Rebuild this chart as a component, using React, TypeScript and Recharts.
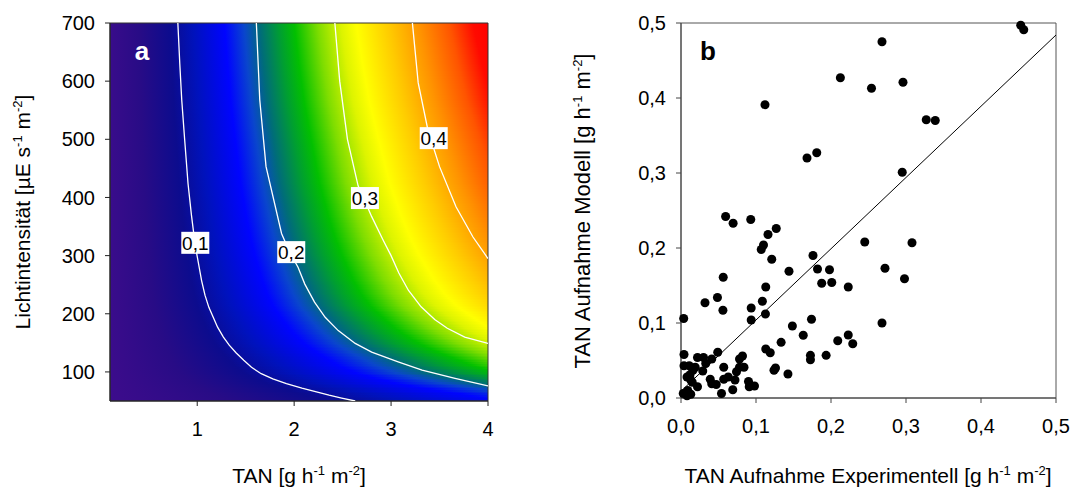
import React from "react";
import { ScatterChart, Scatter, XAxis, YAxis, ZAxis, ReferenceArea } from "recharts";

const FONT = "'Liberation Sans', Arial, Helvetica, sans-serif";

// ---------- panel a: modelled TAN uptake over TAN and light ----------
const tanTicks = [1, 2, 3, 4];
const lightTicks = [100, 200, 300, 400, 500, 600, 700];

// contour lines (TAN at a given light level)
const contour01 = [
  { light: 700, tan: 0.8 }, { light: 630, tan: 0.82 }, { light: 568, tan: 0.84 },
  { light: 500, tan: 0.87 }, { light: 424, tan: 0.905 }, { light: 370, tan: 0.94 },
  { light: 330, tan: 0.97 }, { light: 303, tan: 0.995 }, { light: 280, tan: 1.02 },
  { light: 257, tan: 1.045 }, { light: 232, tan: 1.08 }, { light: 211, tan: 1.12 },
  { light: 194, tan: 1.165 }, { light: 177, tan: 1.21 }, { light: 160, tan: 1.27 },
  { light: 146, tan: 1.33 }, { light: 133, tan: 1.4 }, { light: 120, tan: 1.48 },
  { light: 108, tan: 1.56 }, { light: 97, tan: 1.66 }, { light: 88, tan: 1.78 },
  { light: 80, tan: 1.92 }, { light: 72, tan: 2.08 }, { light: 66, tan: 2.22 },
  { light: 60, tan: 2.36 }, { light: 55, tan: 2.49 }, { light: 50, tan: 2.63 },
];
const contour02 = [
  { light: 700, tan: 1.61 }, { light: 568, tan: 1.645 }, { light: 453, tan: 1.71 },
  { light: 338, tan: 1.87 }, { light: 307, tan: 1.95 }, { light: 280, tan: 2.04 },
  { light: 251, tan: 2.11 }, { light: 220, tan: 2.21 }, { light: 194, tan: 2.32 },
  { light: 171, tan: 2.455 }, { light: 149, tan: 2.63 }, { light: 134, tan: 2.8 },
  { light: 117, tan: 3.08 }, { light: 103, tan: 3.32 }, { light: 89, tan: 3.66 },
  { light: 76, tan: 4.0 },
];
const contour03 = [
  { light: 700, tan: 2.42 }, { light: 600, tan: 2.47 }, { light: 500, tan: 2.55 },
  { light: 420, tan: 2.66 }, { light: 398, tan: 2.72 }, { light: 367, tan: 2.8 },
  { light: 326, tan: 2.92 }, { light: 300, tan: 3.0 }, { light: 270, tan: 3.08 },
  { light: 240, tan: 3.18 }, { light: 212, tan: 3.31 }, { light: 190, tan: 3.45 },
  { light: 175, tan: 3.58 }, { light: 160, tan: 3.76 }, { light: 149, tan: 4.0 },
];
const contour04 = [
  { light: 700, tan: 3.22 }, { light: 597, tan: 3.28 }, { light: 516, tan: 3.38 },
  { light: 453, tan: 3.5 }, { light: 384, tan: 3.67 }, { light: 332, tan: 3.845 },
  { light: 295, tan: 4.0 },
];
const contourLabels = [
  { tan: 0.98, light: 322, text: "0,1" },
  { tan: 1.97, light: 306, text: "0,2" },
  { tan: 2.73, light: 399, text: "0,3" },
  { tan: 3.44, light: 502, text: "0,4" },
];

// colour scale of the map (uptake -> colour)
const colorScale = [
  { z: 0.0, color: "#3e0c8c" }, { z: 0.05, color: "#280c86" },
  { z: 0.09, color: "#0c0c8e" }, { z: 0.12, color: "#0012bc" },
  { z: 0.16, color: "#0004ff" }, { z: 0.185, color: "#0a46cc" },
  { z: 0.205, color: "#006c7a" }, { z: 0.23, color: "#009e32" },
  { z: 0.25, color: "#02c000" }, { z: 0.28, color: "#7edd00" },
  { z: 0.31, color: "#ddf400" }, { z: 0.33, color: "#ffff00" },
  { z: 0.37, color: "#ffcc00" }, { z: 0.41, color: "#ff9400" },
  { z: 0.45, color: "#ff5400" }, { z: 0.48, color: "#ff0a00" },
  { z: 0.5, color: "#ff0000" },
];

// ---------- panel b: model vs. experiment ----------
const axisTicksB = [0, 0.1, 0.2, 0.3, 0.4, 0.5];
const uptake = [
  { exp: 0.453, model: 0.497 }, { exp: 0.457, model: 0.491 }, { exp: 0.268, model: 0.475 },
  { exp: 0.2125, model: 0.427 }, { exp: 0.254, model: 0.413 }, { exp: 0.296, model: 0.421 },
  { exp: 0.112, model: 0.391 }, { exp: 0.327, model: 0.371 }, { exp: 0.339, model: 0.37 },
  { exp: 0.168, model: 0.32 }, { exp: 0.181, model: 0.327 }, { exp: 0.295, model: 0.301 },
  { exp: 0.0595, model: 0.242 }, { exp: 0.0695, model: 0.233 }, { exp: 0.093, model: 0.238 },
  { exp: 0.127, model: 0.226 }, { exp: 0.116, model: 0.218 }, { exp: 0.11, model: 0.204 },
  { exp: 0.107, model: 0.198 }, { exp: 0.121, model: 0.185 }, { exp: 0.245, model: 0.208 },
  { exp: 0.308, model: 0.207 }, { exp: 0.176, model: 0.19 }, { exp: 0.144, model: 0.169 },
  { exp: 0.182, model: 0.172 }, { exp: 0.198, model: 0.171 }, { exp: 0.272, model: 0.173 },
  { exp: 0.0563, model: 0.161 }, { exp: 0.1876, model: 0.153 }, { exp: 0.201, model: 0.154 },
  { exp: 0.223, model: 0.148 }, { exp: 0.298, model: 0.159 }, { exp: 0.113, model: 0.148 },
  { exp: 0.0486, model: 0.134 }, { exp: 0.032, model: 0.127 }, { exp: 0.1085, model: 0.129 },
  { exp: 0.0559, model: 0.117 }, { exp: 0.0936, model: 0.12 }, { exp: 0.1126, model: 0.112 },
  { exp: 0.0036, model: 0.106 }, { exp: 0.0936, model: 0.104 }, { exp: 0.174, model: 0.105 },
  { exp: 0.268, model: 0.1 }, { exp: 0.1485, model: 0.096 }, { exp: 0.163, model: 0.0836 },
  { exp: 0.223, model: 0.084 }, { exp: 0.209, model: 0.0764 }, { exp: 0.229, model: 0.0724 },
  { exp: 0.1335, model: 0.0742 }, { exp: 0.113, model: 0.0653 }, { exp: 0.119, model: 0.0604 },
  { exp: 0.1726, model: 0.0569 }, { exp: 0.1726, model: 0.051 }, { exp: 0.1935, model: 0.0569 },
  { exp: 0.126, model: 0.04 }, { exp: 0.124, model: 0.037 }, { exp: 0.1426, model: 0.032 },
  // dense cluster near the origin
  { exp: 0.004, model: 0.058 }, { exp: 0.004, model: 0.043 }, { exp: 0.011, model: 0.043 },
  { exp: 0.022, model: 0.054 }, { exp: 0.03, model: 0.054 }, { exp: 0.033, model: 0.046 },
  { exp: 0.029, model: 0.036 }, { exp: 0.016, model: 0.037 }, { exp: 0.008, model: 0.028 },
  { exp: 0.015, model: 0.021 }, { exp: 0.022, model: 0.015 }, { exp: 0.009, model: 0.01 },
  { exp: 0.003, model: 0.006 }, { exp: 0.008, model: 0.003 }, { exp: 0.013, model: 0.005 },
  { exp: 0.012, model: 0.031 }, { exp: 0.019, model: 0.041 }, { exp: 0.013, model: 0.024 },
  { exp: 0.041, model: 0.052 }, { exp: 0.049, model: 0.061 }, { exp: 0.039, model: 0.025 },
  { exp: 0.041, model: 0.019 }, { exp: 0.047, model: 0.018 }, { exp: 0.057, model: 0.041 },
  { exp: 0.057, model: 0.025 }, { exp: 0.054, model: 0.006 }, { exp: 0.063, model: 0.028 },
  { exp: 0.069, model: 0.011 }, { exp: 0.072, model: 0.024 }, { exp: 0.074, model: 0.035 },
  { exp: 0.078, model: 0.052 }, { exp: 0.082, model: 0.056 }, { exp: 0.084, model: 0.041 },
  { exp: 0.078, model: 0.041 }, { exp: 0.09, model: 0.022 }, { exp: 0.091, model: 0.015 },
  { exp: 0.098, model: 0.016 },
];
const fitLine = [
  { exp: 0, model: 0.009 },
  { exp: 0.5, model: 0.484 },
];

const tickStyle = { fill: "#000", fontSize: 20, fontFamily: FONT };
const comma = (v: number) => v.toFixed(1).replace(".", ",");
const noDot = () => <g />;

// one horizontal strip of the map: colours run along TAN, placed from the 0,1 contour
function makeStrip(id: string, tan01: number) {
  const x1 = (0 - 0.1) / 3.9;
  const x2 = (5 * tan01 - 0.1) / 3.9;
  return (p: any) => (
    <g>
      <defs>
        <linearGradient id={id} x1={x1} x2={x2} y1={0} y2={0}>
          {colorScale.map((s) => (
            <stop key={s.z} offset={s.z / 0.5} stopColor={s.color} />
          ))}
        </linearGradient>
      </defs>
      <rect x={p.x} y={p.y} width={p.width} height={p.height} fill={`url(#${id})`} shapeRendering="crispEdges" />
    </g>
  );
}

// thin shading rows between the read contour points, so the fill has no visible steps
const strips: { top: number; bottom: number; tan01: number }[] = [];
contour01.slice(1).forEach((p, i) => {
  const a = contour01[i];
  const n = Math.max(1, Math.ceil((a.light - p.light) / 3));
  for (let k = 0; k < n; k++) {
    strips.push({
      top: a.light + ((p.light - a.light) * k) / n,
      bottom: a.light + ((p.light - a.light) * (k + 1)) / n,
      tan01: a.tan + ((p.tan - a.tan) * (k + 0.5)) / n,
    });
  }
});

function LabelBox(props: any) {
  const { cx, cy, payload } = props;
  return (
    <g>
      <rect x={cx - 14} y={cy - 11} width={28} height={22} fill="#fff" />
      <text x={cx} y={cy + 7} textAnchor="middle" fontSize={19} fontFamily={FONT} fill="#000">
        {payload.text}
      </text>
    </g>
  );
}

function Units() {
  return (
    <>
      {" [g h"}
      <tspan dy={-8} fontSize={13}>-1</tspan>
      <tspan dy={8}> m</tspan>
      <tspan dy={-8} fontSize={13}>-2</tspan>
      <tspan dy={8}>]</tspan>
    </>
  );
}

export default function App() {
  return (
    <div style={{ position: "absolute", left: 0, top: 0, width: 1077, height: 488, background: "#fff" }}>
      <div style={{ position: "absolute", left: 0, top: 0 }}>
        <ScatterChart width={500} height={488} margin={{ top: 23, right: 12, bottom: 57, left: 0 }}>
          <XAxis
            type="number" dataKey="tan" domain={[0.1, 4]} ticks={tanTicks} interval={0}
            allowDataOverflow height={30} tickSize={5} tickMargin={16}
            axisLine={{ stroke: "#222" }} tickLine={{ stroke: "#222" }} tick={tickStyle}
          />
          <YAxis
            type="number" dataKey="light" domain={[50, 700]} ticks={lightTicks} interval={0}
            allowDataOverflow width={110} tickSize={5} tickMargin={10}
            axisLine={{ stroke: "#222" }} tickLine={{ stroke: "#222" }} tick={tickStyle}
          />
          {strips.map((s, i) => (
            <ReferenceArea
              key={i} x1={0.1} x2={4} y1={s.bottom} y2={s.top}
              ifOverflow="visible" shape={makeStrip(`strip-${i}`, s.tan01)}
            />
          ))}
          <ReferenceArea x1={0.1} x2={4} y1={50} y2={700} fill="none" fillOpacity={0} stroke="#333" ifOverflow="visible" />
          {[contour01, contour02, contour03, contour04].map((c, i) => (
            <Scatter key={i} data={c} line={{ stroke: "#fff", strokeWidth: 1.3 }} shape={noDot} isAnimationActive={false} />
          ))}
          <Scatter data={contourLabels} shape={LabelBox} isAnimationActive={false} />
        </ScatterChart>
      </div>
      <div style={{ position: "absolute", left: 540, top: 0 }}>
        <ScatterChart width={537} height={488} margin={{ top: 23, right: 21, bottom: 60, left: 0 }}>
          <XAxis
            type="number" dataKey="exp" domain={[0, 0.5]} ticks={axisTicksB} interval={0}
            tickFormatter={comma} height={30} tickSize={5} tickMargin={16}
            axisLine={{ stroke: "#444" }} tickLine={{ stroke: "#444" }} tick={tickStyle}
          />
          <YAxis
            type="number" dataKey="model" domain={[0, 0.5]} ticks={axisTicksB} interval={0}
            tickFormatter={comma} width={141} tickSize={5} tickMargin={10}
            axisLine={{ stroke: "#444" }} tickLine={{ stroke: "#444" }} tick={tickStyle}
          />
          <ZAxis range={[62, 62]} />
          <ReferenceArea x1={0} x2={0.5} y1={0} y2={0.5} fill="none" fillOpacity={0} stroke="#555" ifOverflow="visible" />
          <Scatter data={fitLine} line={{ stroke: "#000", strokeWidth: 1 }} shape={noDot} isAnimationActive={false} />
          <Scatter data={uptake} fill="#000" isAnimationActive={false} />
        </ScatterChart>
      </div>
      <svg width={1077} height={488} style={{ position: "absolute", left: 0, top: 0, pointerEvents: "none" }}>
        <g fontFamily={FONT} fill="#000" fontSize={21}>
          <text x={142} y={60} fontSize={26} fontWeight="bold" fill="#fff" textAnchor="middle">a</text>
          <text x={708} y={60} fontSize={26} fontWeight="bold" textAnchor="middle">b</text>
          <text x={299} y={483} textAnchor="middle">
            TAN<Units />
          </text>
          <text x={868} y={483} textAnchor="middle">
            TAN Aufnahme Experimentell<Units />
          </text>
          <text transform="translate(30,212) rotate(-90)" textAnchor="middle">
            {"Lichtintensität [µE s"}
            <tspan dy={-8} fontSize={13}>-1</tspan>
            <tspan dy={8}> m</tspan>
            <tspan dy={-8} fontSize={13}>-2</tspan>
            <tspan dy={8}>]</tspan>
          </text>
          <text transform="translate(590,211) rotate(-90)" fontSize={22} textAnchor="middle">
            TAN Aufnahme Modell<Units />
          </text>
        </g>
      </svg>
    </div>
  );
}
